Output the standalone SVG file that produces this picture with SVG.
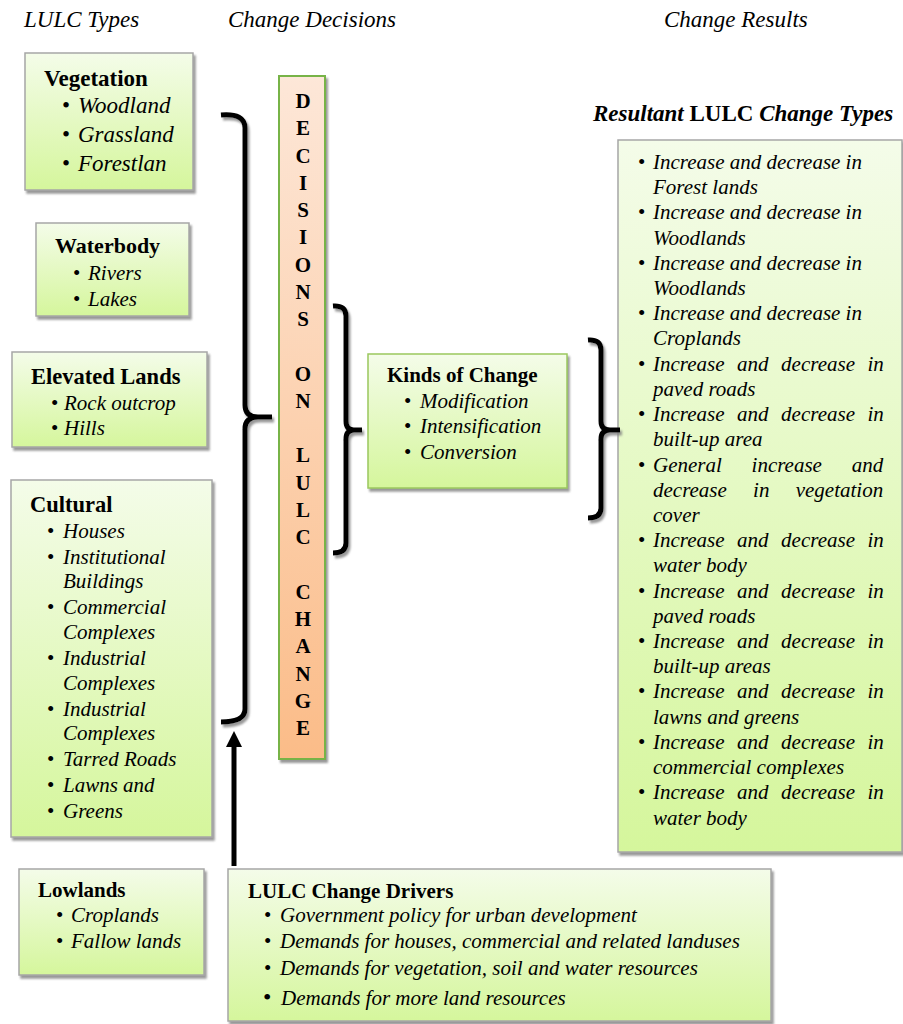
<svg xmlns="http://www.w3.org/2000/svg" width="903" height="1024" viewBox="0 0 903 1024">
<defs>
<linearGradient id="gGreen" x1="0" y1="0" x2="0" y2="1">
<stop offset="0" stop-color="#f4fce9"/>
<stop offset="1" stop-color="#d5f69c"/>
</linearGradient>
<linearGradient id="gOrange" x1="0" y1="0" x2="0" y2="1">
<stop offset="0" stop-color="#fde7d8"/>
<stop offset="1" stop-color="#fbbc88"/>
</linearGradient>
<filter id="shadow" x="-10%" y="-10%" width="125%" height="125%">
<feDropShadow dx="2" dy="3" stdDeviation="1.2" flood-color="#7f7f7f" flood-opacity="0.8"/>
</filter>
<marker id="arrow" viewBox="0 0 10 10" refX="0" refY="5" markerWidth="16" markerHeight="17" markerUnits="userSpaceOnUse" orient="auto">
<path d="M0,0 L10,5 L0,10 Z" fill="#000"/>
</marker>
</defs>
<style>
.box{fill:url(#gGreen);stroke:#a6a6a6;stroke-width:1.5;filter:url(#shadow)}
.boxg{fill:url(#gGreen);stroke:#9bc75e;stroke-width:1.5;filter:url(#shadow)}
.bar{fill:url(#gOrange);stroke:#77b347;stroke-width:2;filter:url(#shadow)}
.hd{font-family:"Liberation Serif","Times New Roman",serif;font-style:italic;font-size:23px;fill:#000}
.tb{font-family:"Liberation Serif","Times New Roman",serif;font-weight:bold;fill:#000}
.it{font-family:"Liberation Serif","Times New Roman",serif;font-style:italic;fill:#000}
.bl{font-family:"Liberation Serif","Times New Roman",serif;fill:#000}
.dl{font-family:"Liberation Serif","Times New Roman",serif;font-weight:bold;font-size:21px;text-anchor:middle;fill:#000}
.brace{fill:none;stroke:#000;stroke-width:5;stroke-linejoin:round;filter:url(#shadow)}
.r{font-family:"Liberation Serif","Times New Roman",serif;font-style:italic;font-size:21px;fill:#000}
</style>

<g id="headings">
<text class="hd" x="24" y="27">LULC Types</text>
<text class="hd" x="228" y="27">Change Decisions</text>
<text class="hd" x="664" y="27">Change Results</text>
</g>

<g id="vegetation">
<rect class="box" x="25" y="53" width="168" height="137"/>
<text class="tb" x="44" y="86" font-size="23">Vegetation</text>
<g font-size="23"><text class="bl" x="62" y="113">•</text><text class="it" x="78" y="113">Woodland</text>
<text class="bl" x="62" y="142">•</text><text class="it" x="78" y="142">Grassland</text>
<text class="bl" x="62" y="171">•</text><text class="it" x="78" y="171">Forestlan</text></g>
</g>

<g id="waterbody">
<rect class="box" x="36" y="223" width="153" height="93"/>
<text class="tb" x="55" y="253" font-size="22">Waterbody</text>
<g font-size="21"><text class="bl" x="73" y="280">•</text><text class="it" x="88" y="280">Rivers</text>
<text class="bl" x="73" y="306">•</text><text class="it" x="88" y="306">Lakes</text></g>
</g>

<g id="elevated">
<rect class="box" x="12" y="352" width="195" height="95"/>
<text class="tb" x="31" y="384" font-size="22.5">Elevated Lands</text>
<g font-size="21"><text class="bl" x="51" y="410">•</text><text class="it" x="64" y="410">Rock outcrop</text>
<text class="bl" x="51" y="435">•</text><text class="it" x="64" y="435">Hills</text></g>
</g>

<g id="cultural">
<rect class="box" x="11" y="480" width="201" height="357"/>
<text class="tb" x="30" y="512" font-size="22.5">Cultural</text>
<g font-size="21">
<text class="bl" x="47" y="538">•</text><text class="it" x="63" y="538">Houses</text>
<text class="bl" x="47" y="564">•</text><text class="it" x="63" y="564">Institutional</text>
<text class="it" x="63" y="588">Buildings</text>
<text class="bl" x="47" y="614">•</text><text class="it" x="63" y="614">Commercial</text>
<text class="it" x="63" y="639">Complexes</text>
<text class="bl" x="47" y="665">•</text><text class="it" x="63" y="665">Industrial</text>
<text class="it" x="63" y="690">Complexes</text>
<text class="bl" x="47" y="716">•</text><text class="it" x="63" y="716">Industrial</text>
<text class="it" x="63" y="740">Complexes</text>
<text class="bl" x="47" y="766">•</text><text class="it" x="63" y="766">Tarred Roads</text>
<text class="bl" x="47" y="792">•</text><text class="it" x="63" y="792">Lawns and</text>
<text class="bl" x="47" y="818">•</text><text class="it" x="63" y="818">Greens</text>
</g>
</g>

<g id="lowlands">
<rect class="box" x="19" y="869" width="185" height="106"/>
<text class="tb" x="38" y="897" font-size="21">Lowlands</text>
<g font-size="21"><text class="bl" x="56" y="922">•</text><text class="it" x="71" y="922">Croplands</text>
<text class="bl" x="56" y="948">•</text><text class="it" x="71" y="948">Fallow lands</text></g>
</g>

<g id="drivers">
<rect class="box" x="228" y="869" width="543" height="152"/>
<text class="tb" x="248" y="898" font-size="21">LULC Change Drivers</text>
<g font-size="21">
<text class="bl" x="264" y="922">•</text><text class="it" x="280" y="922">Government policy for urban development</text>
<text class="bl" x="264" y="948">•</text><text class="it" x="280" y="948">Demands for houses, commercial and related landuses</text>
<text class="bl" x="264" y="975">•</text><text class="it" x="280" y="975">Demands for vegetation, soil and water resources</text>
<text class="bl" x="263" y="1005" font-size="24">•</text><text class="it" x="281" y="1005">Demands for more land resources</text>
</g>
</g>

<g id="decisions">
<rect class="bar" x="279" y="76" width="46" height="683"/>
<text class="dl" x="303" y="108">D</text>
<text class="dl" x="303" y="135.3">E</text>
<text class="dl" x="303" y="162.5">C</text>
<text class="dl" x="303" y="189.8">I</text>
<text class="dl" x="303" y="217">S</text>
<text class="dl" x="303" y="244.3">I</text>
<text class="dl" x="303" y="271.6">O</text>
<text class="dl" x="303" y="298.8">N</text>
<text class="dl" x="303" y="326.1">S</text>
<text class="dl" x="303" y="380.6">O</text>
<text class="dl" x="303" y="407.9">N</text>
<text class="dl" x="303" y="462.4">L</text>
<text class="dl" x="303" y="489.6">U</text>
<text class="dl" x="303" y="516.9">L</text>
<text class="dl" x="303" y="544.2">C</text>
<text class="dl" x="303" y="598.7">C</text>
<text class="dl" x="303" y="626">H</text>
<text class="dl" x="303" y="653.2">A</text>
<text class="dl" x="303" y="680.5">N</text>
<text class="dl" x="303" y="707.7">G</text>
<text class="dl" x="303" y="735">E</text>
</g>

<g id="kinds">
<rect class="boxg" x="368" y="354" width="199" height="134"/>
<text class="tb" x="387" y="382" font-size="21">Kinds of Change</text>
<g font-size="21"><text class="bl" x="404" y="408">•</text><text class="it" x="420" y="408">Modification</text>
<text class="bl" x="404" y="433">•</text><text class="it" x="420" y="433">Intensification</text>
<text class="bl" x="404" y="459">•</text><text class="it" x="420" y="459">Conversion</text></g>
</g>

<g id="resultant-title">
<text x="593" y="121" font-family="Liberation Serif,Times New Roman,serif" font-size="23" font-weight="bold"><tspan font-style="italic">Resultant</tspan> LULC <tspan font-style="italic">Change Types</tspan></text>
</g>

<g id="results">
<rect class="box" x="618" y="140" width="284" height="712"/>
<g font-size="21">
<text class="bl" x="638" y="169">•</text><text class="r" x="653" y="169">Increase and decrease in</text>
<text class="r" x="653" y="194">Forest lands</text>
<text class="bl" x="638" y="219">•</text><text class="r" x="653" y="219">Increase and decrease in</text>
<text class="r" x="653" y="245">Woodlands</text>
<text class="bl" x="638" y="270">•</text><text class="r" x="653" y="270">Increase and decrease in</text>
<text class="r" x="653" y="295">Woodlands</text>
<text class="bl" x="638" y="320">•</text><text class="r" x="653" y="320">Increase and decrease in</text>
<text class="r" x="653" y="345">Croplands</text>
<text class="bl" x="638" y="371">•</text><text class="r" x="653" y="371" word-spacing="7.3">Increase and decrease in</text>
<text class="r" x="653" y="396">paved roads</text>
<text class="bl" x="638" y="421">•</text><text class="r" x="653" y="421" word-spacing="7.3">Increase and decrease in</text>
<text class="r" x="653" y="446">built-up area</text>
<text class="bl" x="638" y="472">•</text><text class="r" x="653" y="472" word-spacing="24.5">General increase and</text>
<text class="r" x="653" y="497" word-spacing="21">decrease in vegetation</text>
<text class="r" x="653" y="522">cover</text>
<text class="bl" x="638" y="547">•</text><text class="r" x="653" y="547" word-spacing="7.3">Increase and decrease in</text>
<text class="r" x="653" y="572">water body</text>
<text class="bl" x="638" y="598">•</text><text class="r" x="653" y="598" word-spacing="7.3">Increase and decrease in</text>
<text class="r" x="653" y="623">paved roads</text>
<text class="bl" x="638" y="648">•</text><text class="r" x="653" y="648" word-spacing="7.3">Increase and decrease in</text>
<text class="r" x="653" y="673">built-up areas</text>
<text class="bl" x="638" y="698">•</text><text class="r" x="653" y="698" word-spacing="7.3">Increase and decrease in</text>
<text class="r" x="653" y="724">lawns and greens</text>
<text class="bl" x="638" y="749">•</text><text class="r" x="653" y="749" word-spacing="7.3">Increase and decrease in</text>
<text class="r" x="653" y="774">commercial complexes</text>
<text class="bl" x="638" y="799">•</text><text class="r" x="653" y="799" word-spacing="7.3">Increase and decrease in</text>
<text class="r" x="653" y="825">water body</text>
</g>
</g>

<g id="connectors">
<path class="brace" d="M221,115 Q245,113 245,128 V405 Q245,417 258,417 H272 M258,417 Q245,417 245,429 V709 Q245,722 221,722"/>
<path class="brace" d="M333,306 Q346,305 346,316 V421 Q346,430 354,430 H362 M354,430 Q346,430 346,439 V543 Q346,553 333,553"/>
<path class="brace" d="M588,340 Q601,339 601,350 V421 Q601,430 610,430 H620 M610,430 Q601,430 601,439 V508 Q601,518 588,518"/>
<line x1="234" y1="866" x2="234" y2="747" stroke="#000" stroke-width="5" marker-end="url(#arrow)"/>
</g>
</svg>
